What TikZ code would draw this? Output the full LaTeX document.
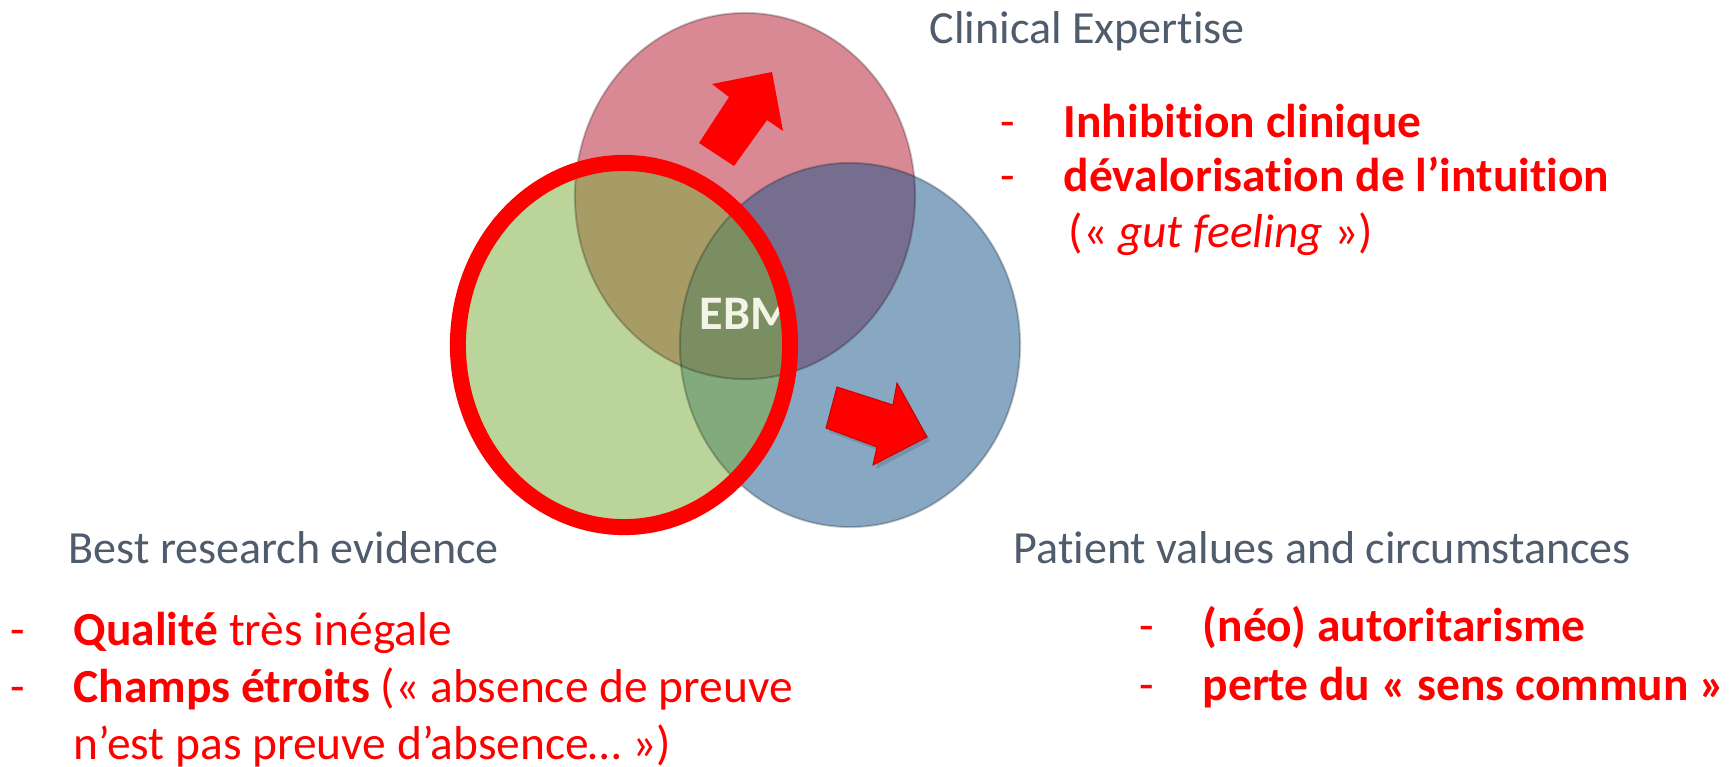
\documentclass[tikz,border=0pt]{standalone}
\usepackage{fontspec}
\setmainfont{Carlito}[Ligatures={NoCommon,NoRare,NoContextual}]
\definecolor{pinkc}{HTML}{D98994}
\definecolor{bluec}{HTML}{87A7C2}
\definecolor{greenc}{HTML}{BBD49A}
\definecolor{pbc}{HTML}{766E8E}
\definecolor{pgc}{HTML}{A89C66}
\definecolor{bgc}{HTML}{82AA7D}
\definecolor{allc}{HTML}{7A8E62}
\definecolor{labelgray}{HTML}{4E5C6C}
\definecolor{ebmwhite}{HTML}{F4F4E6}
\definecolor{redc}{HTML}{FF0000}
\begin{document}
\begin{tikzpicture}[x=0.01cm,y=-0.01cm,
  graylabel/.style={anchor=base west, inner sep=0pt, text=labelgray, font=\fontsize{13.1pt}{15pt}\selectfont},
  redtxt/.style={anchor=base west, inner sep=0pt, text=redc, font=\fontsize{13.5pt}{16pt}\selectfont},
  ebmtxt/.style={anchor=base west, inner sep=0pt, text=ebmwhite, font=\fontsize{13.7pt}{16pt}\selectfont\bfseries},
  outline/.style={draw=black, draw opacity=0.22, line width=0.02cm},
  blockarrow/.style={fill=redc, draw=none}
]
\useasboundingbox (0,0) rectangle (1734,767);
\fill[white] (0,0) rectangle (1734,767);

% base fills
\fill[pinkc] (745,196) ellipse [x radius=1.70cm, y radius=1.83cm];
\fill[bluec] (850,345) ellipse [x radius=1.70cm, y radius=1.82cm];
\fill[greenc] (624,345) ellipse [x radius=1.66cm, y radius=1.82cm];
% overlaps
\begin{scope}
  \clip (745,196) ellipse [x radius=1.70cm, y radius=1.83cm];
  \fill[pbc] (850,345) ellipse [x radius=1.70cm, y radius=1.82cm];
  \fill[pgc] (624,345) ellipse [x radius=1.66cm, y radius=1.82cm];
\end{scope}
\begin{scope}
  \clip (850,345) ellipse [x radius=1.70cm, y radius=1.82cm];
  \fill[bgc] (624,345) ellipse [x radius=1.66cm, y radius=1.82cm];
\end{scope}
\begin{scope}
  \clip (745,196) ellipse [x radius=1.70cm, y radius=1.83cm];
  \clip (850,345) ellipse [x radius=1.70cm, y radius=1.82cm];
  \fill[allc] (624,345) ellipse [x radius=1.66cm, y radius=1.82cm];
\end{scope}
% outlines
\path[outline] (745,196) ellipse [x radius=1.70cm, y radius=1.83cm];
\path[outline] (850,345) ellipse [x radius=1.70cm, y radius=1.82cm];

% EBM
\node[ebmtxt] (ebm) at (699,329) {EBM};

% block arrows
\path[blockarrow] (772,72) -- (783,131) -- (767,120) -- (734,166) -- (699,143) -- (729,97) -- (712,84) -- cycle;
\fill[black, opacity=0.12] (930,441) -- (876,469) -- (880,451) -- (829,432) -- (840,391) -- (896,409) -- (900,387) -- cycle;
\path[blockarrow, draw=red!80!black, line width=0.01cm] (927,437) -- (873,465) -- (877,447) -- (826,428) -- (837,387) -- (893,405) -- (897,383) -- cycle;

% red ring
\draw[redc, line width=0.16cm] (624,345) ellipse [x radius=1.66cm, y radius=1.82cm];

% gray labels
\node[graylabel] (clin) at (929,44) {Clinical Expertise};
\node[graylabel] (best) at (68,563) {Best research evidence};
\node[graylabel] (pat) at (1013,563) {Patient values and circumstances};

% top right list
\node[redtxt] (d1) at (1000,137) {-};
\node[redtxt] (t1) at (1063,137) {\textbf{Inhibition clinique}};
\node[redtxt] (d2) at (1000,192) {-};
\node[redtxt] (t2) at (1063,192) {\textbf{dévalorisation de l’intuition}};
\node[redtxt] (t3) at (1068,247) {(« \textit{gut feeling} »)};

% bottom left list
\node[redtxt] (d4) at (10,645) {-};
\node[redtxt] (t4) at (73,645) {\textbf{Qualité} très inégale};
\node[redtxt] (d5) at (10,702) {-};
\node[redtxt] (t5) at (73,702) {\textbf{Champs étroits} (« absence de preuve};
\node[redtxt] (t6) at (73,759) {n’est pas preuve d’absence… »)};

% bottom right list
\node[redtxt] (d7) at (1139,641) {-};
\node[redtxt] (t7) at (1202,641) {\textbf{(néo) autoritarisme}};
\node[redtxt] (d8) at (1139,700) {-};
\node[redtxt] (t8) at (1202,700) {\textbf{perte du « sens commun »}};
\end{tikzpicture}
\end{document}
